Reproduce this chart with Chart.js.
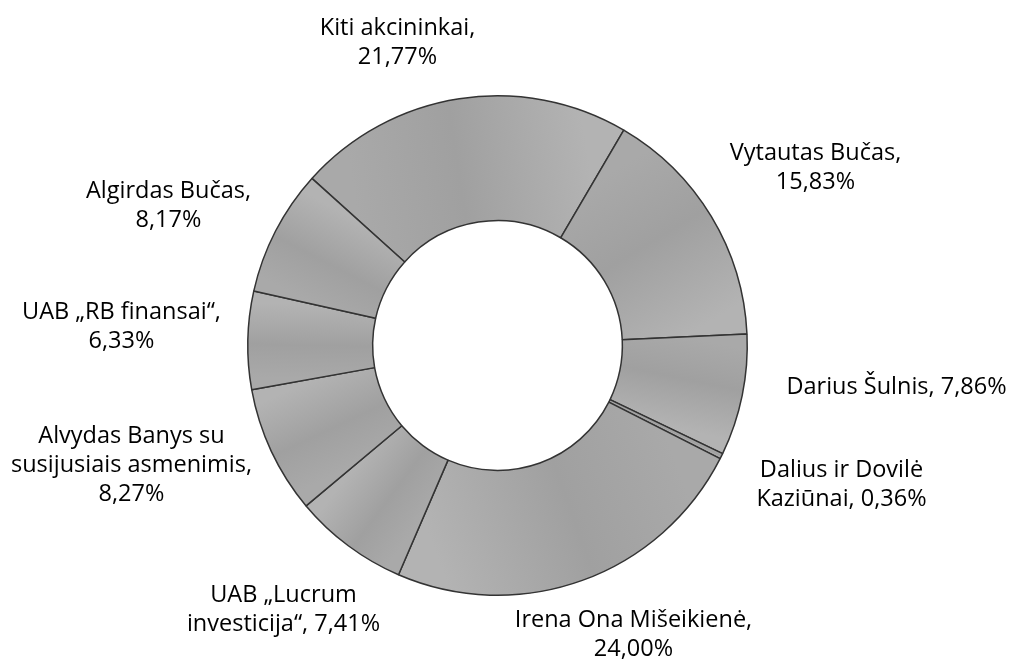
<!DOCTYPE html>
<html>
<head>
<meta charset="utf-8">
<script src="https://cdn.jsdelivr.net/npm/chart.js@4.4.1/dist/chart.umd.min.js"></script>
<style>
  html, body { margin: 0; padding: 0; background: #ffffff; }
  #wrap { width: 1011px; height: 662px; position: relative; }
</style>
</head>
<body>
<div id="wrap"><canvas id="c" width="1011" height="662"></canvas></div>
<script>
// ---- data ----
const categories = [
  'Kiti akcininkai',
  'Vytautas Bučas',
  'Darius Šulnis',
  'Dalius ir Dovilė Kaziūnai',
  'Irena Ona Mišeikienė',
  'UAB „Lucrum investicija“',
  'Alvydas Banys su susijusiais asmenimis',
  'UAB „RB finansai“',
  'Algirdas Bučas'
];
const shares = [21.77, 15.83, 7.86, 0.36, 24.00, 7.41, 8.27, 6.33, 8.17];
// label lines ({v} = formatted share)
const labelLines = [
  ['Kiti akcininkai,', '{v}'],
  ['Vytautas Bučas,', '{v}'],
  ['Darius Šulnis, {v}'],
  ['Dalius ir Dovilė', 'Kaziūnai, {v}'],
  ['Irena Ona Mišeikienė,', '{v}'],
  ['UAB „Lucrum', 'investicija“, {v}'],
  ['Alvydas Banys su', 'susijusiais asmenimis,', '{v}'],
  ['UAB „RB finansai“,', '{v}'],
  ['Algirdas Bučas,', '{v}']
];

// ---- presentation ----
const labelOffsets = [
  [-100, -303], [318, -178], [399, 42], [344, 139], [136, 289],
  [-214, 264], [-366, 120], [-376, -19], [-329, -140]
];
const ROTATION = -48;
const FONT = '23.5px "Open Sans", "Noto Sans", sans-serif';
const LINE_H = 29;

function fmt(v) { return v.toFixed(2).replace('.', ',') + '%'; }

function sliceFill(context) {
  const chart = context.chart;
  const area = chart.chartArea;
  if (!area) return '#aaaaaa';
  const i = context.dataIndex;
  const total = shares.reduce((a, b) => a + b, 0);
  let before = 0;
  for (let k = 0; k < i; k++) before += shares[k];
  const toRad = d => (d - 90) * Math.PI / 180;
  const a0 = toRad(ROTATION + 360 * before / total);
  const a1 = toRad(ROTATION + 360 * (before + shares[i]) / total);
  const cx = (area.left + area.right) / 2, cy = (area.top + area.bottom) / 2;
  const r = Math.min(area.width, area.height) / 2 * 0.75;
  const g = chart.ctx.createLinearGradient(
    cx + r * Math.cos(a0), cy + r * Math.sin(a0),
    cx + r * Math.cos(a1), cy + r * Math.sin(a1));
  g.addColorStop(0, '#a9a9a9');
  g.addColorStop(0.45, '#a0a0a0');
  g.addColorStop(1, '#b3b3b3');
  return g;
}

const labelPlugin = {
  id: 'outerLabels',
  afterDatasetsDraw(chart) {
    const meta = chart.getDatasetMeta(0);
    const ctx = chart.ctx;
    ctx.save();
    ctx.font = FONT;
    ctx.fillStyle = '#000000';
    ctx.textAlign = 'center';
    ctx.textBaseline = 'middle';
    meta.data.forEach((arc, i) => {
      const lines = labelLines[i].map(s => s.replace('{v}', fmt(shares[i])));
      const cx = arc.x + labelOffsets[i][0];
      const cy = arc.y + labelOffsets[i][1];
      const y0 = cy - (lines.length - 1) * LINE_H / 2;
      lines.forEach((ln, j) => ctx.fillText(ln, cx, y0 + j * LINE_H));
    });
    ctx.restore();
  }
};

new Chart(document.getElementById('c'), {
  type: 'doughnut',
  data: {
    labels: categories,
    datasets: [{
      data: shares,
      backgroundColor: sliceFill,
      borderColor: '#333333',
      borderWidth: 1.5,
      borderAlign: 'center',
      hoverOffset: 0
    }]
  },
  options: {
    responsive: false,
    animation: false,
    cutout: '50%',
    rotation: ROTATION,
    layout: { padding: { top: 95, bottom: 66, left: 0, right: 16 } },
    plugins: { legend: { display: false }, tooltip: { enabled: false } },
    events: []
  },
  plugins: [labelPlugin]
});
</script>
</body>
</html>
